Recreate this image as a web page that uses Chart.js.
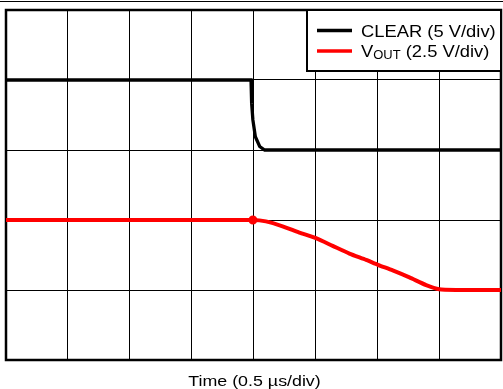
<!DOCTYPE html>
<html>
<head>
<meta charset="utf-8">
<script src="https://cdn.jsdelivr.net/npm/chart.js"></script>
<style>
  html, body { margin: 0; padding: 0; background: #fff; }
  #wrap { position: relative; width: 503px; height: 389px; }
</style>
</head>
<body>
<div id="wrap"><canvas id="scope"></canvas></div>
<script>
// traces, in divisions (8 across, 5 up)
const clearTime  = [0, 3.96, 3.97, 3.99, 4.03, 4.10, 4.18, 8];
const clearLevel = [4, 4, 3.67, 3.43, 3.19, 3.05, 3.0, 3.0];

const voutTime  = [0, 3.99, 4.20, 4.47, 4.74, 5.01, 5.28, 5.55, 5.82, 6.01, 6.25, 6.52, 6.79, 7.0, 7.27, 8];
const voutLevel = [2, 2, 1.98, 1.91, 1.82, 1.74, 1.63, 1.52, 1.43, 1.36, 1.28, 1.18, 1.07, 1.01, 1.0, 1.0];

// legend text: name, subscript, scale
const seriesNames = ['CLEAR', 'V'];
const seriesSubs = ['', 'OUT'];
const seriesScales = ['(5 V/div)', '(2.5 V/div)'];

const timeDivs = 8;
const levelDivs = 5;
const xTitle = 'Time (0.5 \u00b5s/div)';

const FONT = '"Liberation Sans", Arial, sans-serif';
const STRETCH = 1.08; // the scope text is drawn a bit wide

function toPoints(xs, ys) {
    return xs.map((x, i) => ({ x: x, y: ys[i] }));
}

// draws a piece of text stretched sideways, returns its width
function wideText(ctx, text, x, y, font, sx) {
    ctx.font = font;
    ctx.save();
    ctx.translate(x, y);
    ctx.scale(sx, 1);
    ctx.fillText(text, 0, 0);
    ctx.restore();
    return ctx.measureText(text).width * sx;
}

// frame round the screen, the thin rule on top, the boxed legend and the time label
const scopeDecor = {
    id: 'scopeDecor',
    beforeDatasetsDraw(chart) {
        const { ctx, chartArea: a } = chart;
        ctx.save();
        ctx.strokeStyle = '#000';
        ctx.lineWidth = 2.5;
        ctx.strokeRect(a.left, a.top, a.right - a.left, a.bottom - a.top);
        ctx.lineWidth = 1;
        ctx.beginPath();
        ctx.moveTo(0, 1.5);
        ctx.lineTo(chart.width, 1.5);
        ctx.stroke();
        ctx.restore();
    },
    afterDatasetsDraw(chart) {
        const { ctx, chartArea: a } = chart;
        const w = 194, h = 61;
        const left = a.right - w, top = a.top;
        ctx.save();
        ctx.fillStyle = '#fff';
        ctx.fillRect(left, top, w, h);
        ctx.strokeStyle = '#000';
        ctx.lineWidth = 2;
        ctx.strokeRect(left, top, w, h);

        ctx.textBaseline = 'alphabetic';
        chart.data.datasets.forEach((ds, i) => {
            const base = top + 26.5 + i * 20.5;
            const mid = base - 6;
            ctx.strokeStyle = ds.borderColor;
            ctx.lineWidth = 3.5;
            ctx.beginPath();
            ctx.moveTo(left + 10, mid);
            ctx.lineTo(left + 45, mid);
            ctx.stroke();

            let x = left + 54;
            ctx.fillStyle = '#000';
            x += wideText(ctx, seriesNames[i], x, base, '17px ' + FONT, STRETCH);
            if (seriesSubs[i]) {
                x += wideText(ctx, seriesSubs[i], x, base + 2, '12px ' + FONT, STRETCH);
            }
            wideText(ctx, ' ' + seriesScales[i], x, base, '17px ' + FONT, STRETCH);
        });

        // time label under the screen
        ctx.textAlign = 'center';
        wideText(ctx, xTitle, (a.left + a.right) / 2 + 1, a.bottom + 26, '15.5px ' + FONT, 1.15);
        ctx.restore();
    }
};

const ctx = document.getElementById('scope').getContext('2d');
const chart = new Chart(ctx, {
    type: 'line',
    data: {
        datasets: [
            {
                label: 'CLEAR (5 V/div)',
                data: toPoints(clearTime, clearLevel),
                borderColor: '#000',
                borderWidth: 3.3,
                pointRadius: 0,
                tension: 0,
            },
            {
                label: 'VOUT (2.5 V/div)',
                data: toPoints(voutTime, voutLevel),
                borderColor: '#ff0000',
                backgroundColor: '#ff0000',
                borderWidth: 4,
                pointRadius: voutTime.map((t, i) => (i === 1 ? 2.5 : 0)),
                tension: 0.2,
            },
        ],
    },
    options: {
        responsive: true,
        maintainAspectRatio: false,
        animation: false,
        layout: { padding: { left: 6, right: 2, top: 10, bottom: 29 } },
        plugins: {
            legend: { display: false },
            tooltip: { enabled: false },
        },
        scales: {
            x: {
                type: 'linear',
                min: 0,
                max: timeDivs,
                ticks: { display: false, stepSize: 1 },
                grid: { color: '#000', lineWidth: 1, drawTicks: false },
                border: { display: false },
            },
            y: {
                min: 0,
                max: levelDivs,
                ticks: { display: false, stepSize: 1 },
                grid: { color: '#000', lineWidth: 1, drawTicks: false },
                border: { display: false },
            },
        },
    },
    plugins: [scopeDecor],
});
</script>
</body>
</html>
